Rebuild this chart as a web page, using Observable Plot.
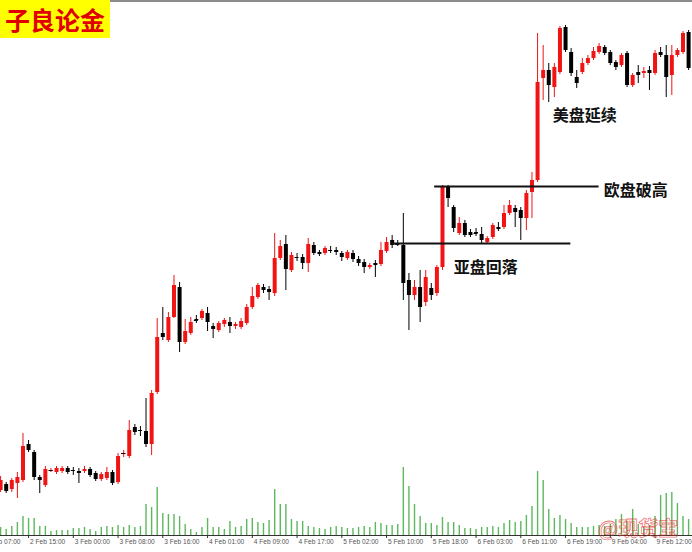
<!DOCTYPE html>
<html>
<head>
<meta charset="utf-8">
<script src="https://cdn.jsdelivr.net/npm/d3@7"></script>
<script src="https://cdn.jsdelivr.net/npm/@observablehq/plot@0.6"></script>
<style>
html, body { margin: 0; padding: 0; background: #fff; }
#wrap { position: relative; width: 692px; height: 552px; overflow: hidden; background: #fff; }
#wrap svg { position: absolute; left: 0; top: 0; }
#topline { position: absolute; left: 0; top: 0; width: 692px; height: 2px; background: #8c8c8c; }
#title { position: absolute; left: 0; top: 0; width: 110px; height: 38px; background: #ffff00; color: #e00000;
  font: bold 25px "Noto Sans CJK SC", sans-serif; line-height: 38px; text-align: center; letter-spacing: 0px; z-index: 5; }
#wm { position: absolute; left: 598px; top: 515px; font: bold 20px "Noto Sans CJK SC", sans-serif; line-height: 26px;
  color: transparent; -webkit-text-stroke: 0.8px rgba(225, 40, 40, 0.65); z-index: 5; white-space: nowrap; }
</style>
</head>
<body>
<div id="wrap"><div id="topline"></div></div>
<script>
// ---- data (hourly XAUUSD-style bars) ----
const open = [
  4510,4516,4511,4517,4520,4556,4548,4523,4515,4529,
  4528,4529,4532,4530,4529,4529,4531,4527,4521,4522,
  4528,4518,4546,4544,4573,4570,4569,4556,4608,4667,
  4660,4683,4713,4658,4667,4681,4682,4687,4674,4670,
  4676,4678,4674,4673,4677,4693,4703,4713,4711,4707,
  4742,4756,4730,4743,4743,4737,4755,4748,4747,4750,
  4750,4747,4742,4747,4741,4738,4733,4737,4736,4749,
  4760,4757,4755,4720,4705,4713,4698,4712,4707,4733,
  4813,4793,4767,4777,4768,4768,4766,4758,4763,4773,
  4773,4787,4792,4790,4782,4808,4820,4922,4930,4913,
  4928,4973,4948,4923,4928,4937,4942,4948,4953,4948,
  4938,4935,4947,4915,4928,4927,4930,4927,4948,4945,
  4925,4945,4948,4968
];
const high = [
  4524,4518,4522,4528,4567,4560,4550,4525,4534,4532,
  4534,4534,4534,4533,4532,4534,4533,4529,4528,4533,
  4530,4547,4550,4580,4576,4574,4602,4610,4682,4693,
  4688,4725,4718,4681,4683,4685,4691,4693,4677,4679,
  4682,4683,4678,4682,4696,4713,4717,4716,4714,4767,
  4760,4765,4748,4747,4746,4762,4758,4750,4754,4754,
  4753,4749,4750,4750,4744,4741,4737,4740,4758,4763,
  4765,4760,4787,4727,4720,4730,4730,4717,4735,4815,
  4815,4795,4783,4780,4771,4772,4773,4764,4777,4778,
  4795,4800,4795,4793,4810,4828,4967,4955,4937,4937,
  4974,4975,4952,4930,4942,4945,4953,4957,4955,4950,
  4940,4947,4949,4927,4935,4933,4934,4950,4953,4955,
  4955,4952,4969,4970
];
const low = [
  4508,4507,4508,4502,4518,4548,4520,4507,4513,4528,
  4526,4527,4526,4525,4517,4527,4523,4519,4519,4520,
  4515,4516,4543,4542,4565,4564,4553,4545,4606,4660,
  4658,4682,4648,4656,4665,4677,4680,4669,4662,4668,
  4673,4667,4671,4671,4675,4691,4701,4707,4700,4704,
  4740,4710,4728,4739,4731,4728,4745,4744,4745,4747,
  4745,4739,4740,4738,4734,4727,4731,4723,4734,4747,
  4752,4754,4700,4670,4700,4678,4694,4700,4704,4730,
  4793,4768,4765,4763,4763,4764,4757,4756,4761,4769,
  4771,4785,4773,4760,4770,4782,4818,4900,4898,4903,
  4926,4948,4924,4912,4926,4935,4940,4946,4945,4935,
  4930,4933,4913,4913,4917,4922,4910,4925,4943,4903,
  4905,4943,4946,4930
];
const close = [
  4520,4509,4520,4523,4554,4550,4523,4520,4531,4530,
  4532,4532,4528,4530,4527,4531,4525,4521,4526,4528,
  4517,4544,4547,4570,4568,4570,4556,4607,4663,4663,
  4683,4715,4658,4669,4678,4680,4689,4678,4671,4677,
  4680,4674,4676,4679,4693,4704,4715,4710,4708,4742,
  4754,4731,4745,4743,4737,4756,4747,4746,4752,4750,
  4748,4743,4748,4741,4737,4733,4735,4735,4750,4758,
  4755,4756,4717,4705,4713,4693,4723,4705,4733,4814,
  4802,4772,4777,4765,4765,4767,4760,4762,4775,4771,
  4787,4795,4788,4782,4807,4820,4918,4930,4915,4933,
  4972,4950,4927,4917,4937,4942,4949,4954,4947,4937,
  4933,4945,4915,4925,4925,4929,4927,4947,4945,4923,
  4945,4950,4967,4932
];
const volume = [
  8,6,9,13,19,17,17,9,9,4,
  5,5,5,7,7,8,6,4,8,9,
  8,10,8,10,8,9,31,28,48,22,
  21,21,19,11,6,3,8,17,8,8,
  6,14,8,9,16,17,13,12,15,46,
  31,31,16,14,14,9,8,7,6,8,
  9,8,7,7,8,9,8,13,12,10,
  10,11,68,49,31,19,12,12,10,18,
  13,13,10,7,7,6,8,8,9,8,
  12,15,13,14,20,29,64,55,26,17,
  20,16,12,8,8,8,9,10,9,11,
  16,21,14,26,11,8,10,19,40,42,
  43,32,19,16
];
const tickIndex = [-3,5,13,21,29,37,45,53,61,69,77,85,93,101,109,117];
const tickLabels = ["2 Feb 07:00","2 Feb 15:00","3 Feb 00:00","3 Feb 08:00","3 Feb 16:00","4 Feb 01:00",
  "4 Feb 09:00","4 Feb 17:00","5 Feb 02:00","5 Feb 10:00","5 Feb 18:00","6 Feb 03:00",
  "6 Feb 11:00","6 Feb 19:00","9 Feb 04:00","9 Feb 12:00"];
const levelPrices = [4814, 4757];
const levelFrom = [77.6, 69.9];
const levelTo = [107.0, 101.95];
const noteTexts = ["美盘延续", "欧盘破高", "亚盘回落"];
const noteIndex = [98.7, 107.85, 81.0];
const notePrices = [4885, 4810, 4733];

// ---- build tables ----
const bars = open.map((o, i) => ({i, open: o, high: high[i], low: low[i], close: close[i], volume: volume[i]}));
const up = bars.filter(d => d.close > d.open);
const down = bars.filter(d => d.close <= d.open);
const doji = bars.filter(d => Math.abs(d.close - d.open) < 1.5);
const levels = levelPrices.map((p, k) => ({price: p, from: levelFrom[k], to: levelTo[k]}));
const notes = noteTexts.map((t, k) => ({text: t, i: noteIndex[k], price: notePrices[k]}));
const ticks = tickIndex.map((t, k) => ({i: t, label: tickLabels[k]}));

const RED = "#f01414", BLACK = "#000000", GREEN = "#5cb85c";
const xScale = {domain: [0, 123], range: [0.1, 688.1], axis: null};

const volPlot = Plot.plot({
  width: 692, height: 552,
  marginTop: 0, marginBottom: 17, marginLeft: 0, marginRight: 0,
  x: xScale,
  y: {domain: [0, 535], axis: null},
  style: {background: "transparent", overflow: "hidden"},
  marks: [
    Plot.ruleX(bars, {x: "i", y1: 0, y2: "volume", stroke: GREEN, strokeWidth: 1.4}),
    Plot.ruleY([0], {stroke: "#333", strokeWidth: 1}),
    Plot.ruleX(ticks, {x: "i", y1: 0, y2: -3, stroke: "#333", strokeWidth: 1}),
    Plot.text(ticks, {x: "i", y: -6, text: "label", textAnchor: "start", dx: 1.5,
      fontSize: 6.6, fontFamily: "Liberation Sans, Arial, sans-serif", fill: "#555"})
  ]
});

const candlePlot = Plot.plot({
  width: 692, height: 552,
  margin: 0,
  x: xScale,
  y: {domain: [4448, 5000], axis: null},
  style: {background: "transparent", overflow: "hidden"},
  marks: [
    Plot.ruleX(down, {x: "i", y1: "low", y2: "high", stroke: BLACK, strokeWidth: 1}),
    Plot.ruleX(up, {x: "i", y1: "low", y2: "high", stroke: RED, strokeWidth: 1}),
    Plot.ruleX(down, {x: "i", y1: "open", y2: "close", stroke: BLACK, strokeWidth: 4}),
    Plot.ruleX(up, {x: "i", y1: "open", y2: "close", stroke: RED, strokeWidth: 4}),
    Plot.ruleY(doji, {y: "close", x1: d => d.i - 0.36, x2: d => d.i + 0.36, stroke: BLACK, strokeWidth: 1}),
    Plot.ruleY(levels, {y: "price", x1: "from", x2: "to", stroke: "#111", strokeWidth: 2}),
    Plot.text(notes, {x: "i", y: "price", text: "text", textAnchor: "start", lineAnchor: "middle",
      fontSize: 16, fontWeight: "bold", fontFamily: "Noto Sans CJK SC, sans-serif", fill: "#111"})
  ]
});

const wrap = document.getElementById("wrap");
wrap.appendChild(volPlot);
wrap.appendChild(candlePlot);
const title = document.createElement("div");
title.id = "title";
title.textContent = "子良论金";
wrap.appendChild(title);
const wm = document.createElement("div");
wm.id = "wm";
wm.textContent = "@现货宝";
wrap.appendChild(wm);
</script>
</body>
</html>
